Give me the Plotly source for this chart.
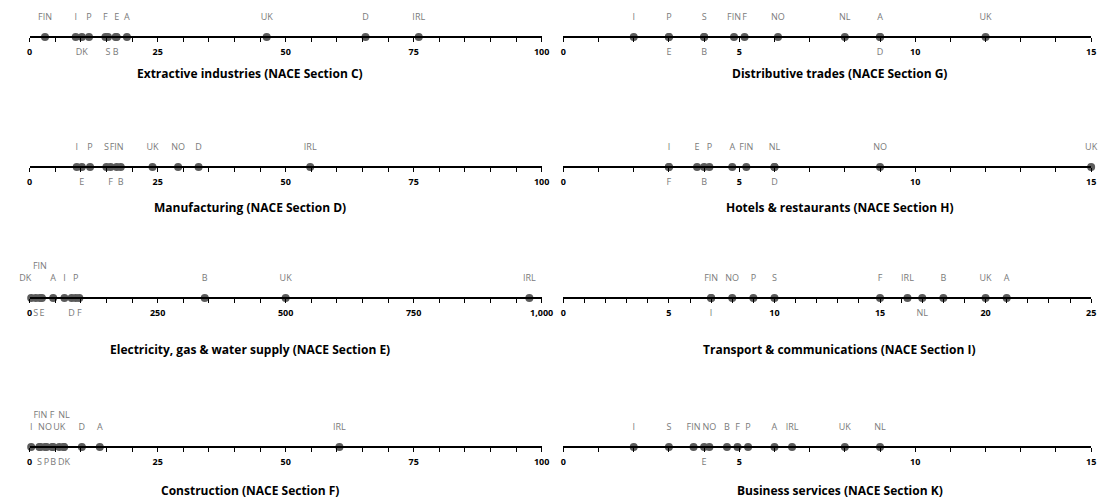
import plotly.graph_objects as go

# ---------------- data ----------------
extractive_labels = ["FIN", "I", "DK", "P", "F", "S", "E", "B", "A", "UK", "D", "IRL"]
extractive_values = [3, 9, 10.2, 11.6, 14.8, 15.3, 17, 16.8, 19, 46.3, 65.6, 76]
extractive_place = ["a", "a", "b", "a", "a", "b", "a", "b", "a", "a", "a", "a"]

distributive_labels = ["I", "P", "E", "S", "B", "FIN", "F", "NO", "NL", "A", "D", "UK"]
distributive_values = [2, 3, 3, 4, 4, 4.85, 5.15, 6.1, 8, 9, 9, 12]
distributive_place = ["a", "a", "b", "a", "b", "a", "a", "a", "a", "a", "b", "a"]

manufacturing_labels = ["I", "E", "P", "S", "F", "FIN", "B", "UK", "NO", "D", "IRL"]
manufacturing_values = [9.2, 10.2, 11.8, 15, 15.8, 17, 17.8, 24, 29, 33, 54.8]
manufacturing_place = ["a", "b", "a", "a", "b", "a", "b", "a", "a", "a", "a"]

hotels_labels = ["I", "F", "E", "P", "B", "A", "FIN", "NL", "D", "NO", "UK"]
hotels_values = [3, 3, 3.8, 4.15, 4, 4.8, 5.2, 6, 6, 9, 15]
hotels_place = ["a", "b", "a", "a", "b", "a", "a", "a", "b", "a", "a"]

electricity_labels = ["DK", "S", "FIN", "E", "A", "I", "D", "P", "F", "B", "UK", "IRL"]
electricity_values = [3, 12, 20, 24, 46, 68, 82, 90, 97, 342, 500, 976]
electricity_place = ["al", "b", "a2", "b", "a", "a", "b", "a", "b", "a", "a", "a"]

transport_labels = ["FIN", "I", "NO", "P", "S", "F", "IRL", "NL", "B", "UK", "A"]
transport_values = [7, 7, 8, 9, 10, 15, 16.3, 17, 18, 20, 21]
transport_place = ["a", "b", "a", "a", "a", "a", "a", "b", "a", "a", "a"]

construction_labels = ["I", "S", "FIN", "NO", "P", "F", "B", "UK", "NL", "DK", "D", "A", "IRL"]
construction_values = [0.3, 1.9, 2.1, 3, 3.3, 4.4, 4.6, 5.8, 6.7, 6.7, 10.2, 13.7, 60.5]
construction_place = ["a", "b", "a2", "a", "b", "a2", "b", "a", "a2", "b", "a", "a", "a"]

business_labels = ["I", "S", "FIN", "E", "NO", "B", "F", "P", "A", "IRL", "UK", "NL"]
business_values = [2, 3, 3.7, 4, 4.15, 4.65, 4.95, 5.25, 6, 6.5, 8, 9]
business_place = ["a", "a", "a", "b", "a", "a", "a", "a", "a", "a", "a", "a"]

titles = [
    "Extractive industries (NACE Section C)",
    "Distributive trades (NACE Section G)",
    "Manufacturing (NACE Section D)",
    "Hotels & restaurants (NACE Section H)",
    "Electricity, gas & water supply (NACE Section E)",
    "Transport & communications (NACE Section I)",
    "Construction (NACE Section F)",
    "Business services (NACE Section K)",
]
axis_max = [100, 15, 100, 15, 1000, 25, 100, 15]
major_step = [25, 5, 25, 5, 250, 5, 25, 5]
minor_step = [5, 1, 5, 1, 50, 1, 5, 1]

series = [
    (extractive_labels, extractive_values, extractive_place),
    (distributive_labels, distributive_values, distributive_place),
    (manufacturing_labels, manufacturing_values, manufacturing_place),
    (hotels_labels, hotels_values, hotels_place),
    (electricity_labels, electricity_values, electricity_place),
    (transport_labels, transport_values, transport_place),
    (construction_labels, construction_values, construction_place),
    (business_labels, business_values, business_place),
]

# ---------------- layout (pixels) ----------------
W, H = 1114, 502
row_axis_y = [37, 167, 298, 447]
row_title_y = [74, 207, 349, 490]
col_x = [(27, 546), (568, 1103)]
col_title_x = [250, 848]
BELOW, ABOVE = 24, 36  # pixel extent of each strip around its axis line

FONT = "Open Sans"
DOT = "#5b5b5b"
LABEL = "#7a7a7a"

offsets = {"a": 19, "al": 19, "a2": 31, "b": -16}
tpos = {"a": "middle center", "al": "middle left", "a2": "middle center", "b": "middle center"}

fig = go.Figure()
layout = dict(
    width=W, height=H, margin=dict(l=0, r=0, t=0, b=0),
    paper_bgcolor="white", plot_bgcolor="rgba(0,0,0,0)",
    showlegend=False, font=dict(family=FONT, color="black"),
    annotations=[],
)

for i, (labs, vals, place) in enumerate(series):
    n = i + 1
    row, col = i // 2, i % 2
    ax_y = row_axis_y[row]
    x0, x1 = col_x[col]
    xa = "x" if n == 1 else f"x{n}"
    ya = "y" if n == 1 else f"y{n}"
    top_px = max(ax_y - ABOVE, 0)

    fig.add_trace(go.Scatter(
        x=vals, y=[0] * len(vals), mode="markers", xaxis=xa, yaxis=ya,
        marker=dict(size=8, color=DOT, line=dict(width=0)),
        cliponaxis=False, hoverinfo="skip"))

    for key in ["a", "al", "a2", "b"]:
        idx = [k for k, p in enumerate(place) if p == key]
        if not idx:
            continue
        fig.add_trace(go.Scatter(
            x=[vals[k] for k in idx], y=[offsets[key]] * len(idx),
            text=[labs[k] for k in idx], mode="text", textposition=tpos[key],
            textfont=dict(family=FONT, size=9, color=LABEL),
            xaxis=xa, yaxis=ya, cliponaxis=False, hoverinfo="skip"))

    layout[f"xaxis{n}" if n > 1 else "xaxis"] = dict(
        domain=[x0 / W, x1 / W], anchor="free", position=1 - ax_y / H,
        range=[0, axis_max[i]],
        showline=True, linecolor="black", linewidth=1.5,
        ticks="outside", ticklen=4, tickwidth=1.2, tickcolor="black",
        tick0=0, dtick=major_step[i], tickformat=",d",
        minor=dict(dtick=minor_step[i], tick0=0, ticks="outside", ticklen=4,
                   tickwidth=1.2, tickcolor="black"),
        showgrid=False, zeroline=False, fixedrange=True,
        tickfont=dict(family=FONT, size=9, color="black", weight="bold"),
        ticklabelstandoff=2,
    )
    layout[f"yaxis{n}" if n > 1 else "yaxis"] = dict(
        domain=[1 - (ax_y + BELOW) / H, 1 - top_px / H], anchor=xa,
        range=[-BELOW, ax_y - top_px], visible=False, fixedrange=True,
    )
    layout["annotations"].append(dict(
        text=titles[i], xref="paper", yref="paper",
        x=col_title_x[col] / W, y=1 - row_title_y[row] / H,
        xanchor="center", yanchor="middle", showarrow=False,
        font=dict(family=FONT, size=12, color="black", weight="bold")))

fig.update_layout(**layout)
fig.write_html("out.html", config={"displayModeBar": False},
               post_script="document.body.style.margin='0';document.body.style.overflow='hidden';")
